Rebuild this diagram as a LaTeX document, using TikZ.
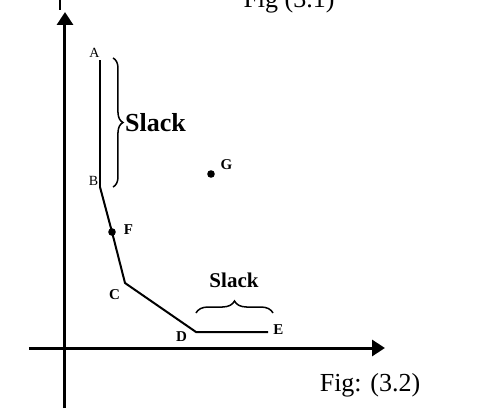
\documentclass[tikz,border=0pt]{standalone}
\usepackage{fontspec}
\setmainfont{Liberation Serif}
\usetikzlibrary{arrows.meta,positioning,decorations.pathreplacing}

\tikzset{
  axis/.style={line width=3pt, -{Triangle[length=13pt,width=16pt]}},
  kinked/.style={line width=2pt},
  ptlabel/.style={inner sep=0pt, font=\fontsize{15}{15}\selectfont\bfseries},
  endlabel/.style={inner sep=0pt, font=\fontsize{14}{14}\selectfont},
  slackbrace/.style={decorate, decoration={brace, amplitude=#1}, line width=1.5pt},
  figcap/.style={inner sep=0pt, font=\fontsize{26}{26}\selectfont}
}

\begin{document}
\begin{tikzpicture}[x=1pt, y=1pt]
  \useasboundingbox (-65,-60) rectangle (415,348);

  % axes
  \draw[axis] (0,-60) -- (0,336);
  \draw[axis] (-36,0) -- (320,0);
  \draw[line width=2pt] (-5,348) -- (-5,338);
  \node[figcap, anchor=base] (fig1) at (224,340) {Fig (3.1)};
  \node[figcap] (fig2) at (305,-37) {Fig: (3.2)};

  % points of the kinked line
  \coordinate (A) at (35,288);
  \coordinate (B) at (35,161);
  \coordinate (F) at (47,116);
  \coordinate (C) at (60,65);
  \coordinate (D) at (131,16);
  \coordinate (E) at (203,16);
  \coordinate (G) at (146,174);

  \draw[line width=1.6pt] (A) -- (B);
  \draw[kinked] (B) -- (F) -- (C) -- (D) -- (E);
  \fill (F) circle (3.8pt);
  \fill (G) circle (3.8pt);

  \node[endlabel] (lA) at (29.5,295) {A};
  \node[endlabel] (lB) at (28.5,167) {B};
  \node[ptlabel] (lF) at (63.5,118) {F};
  \node[ptlabel] (lC) at (49.5,53.5) {C};
  \node[ptlabel] (lD) at (116.5,11) {D};
  \node[ptlabel] (lE) at (213.5,18) {E};
  \node[ptlabel] (lG) at (161.5,183) {G};

  % slack braces
  \draw[slackbrace=10pt] (48,290) -- (48,161);
  \node[inner sep=0pt, font=\fontsize{26}{26}\selectfont\bfseries] (slack1) at (90.5,225) {Slack};
  \draw[slackbrace=12pt] (131,35) -- (208,35);
  \node[inner sep=0pt, font=\fontsize{21}{21}\selectfont\bfseries] (slack2) at (169,67.5) {Slack};
\end{tikzpicture}
\end{document}
